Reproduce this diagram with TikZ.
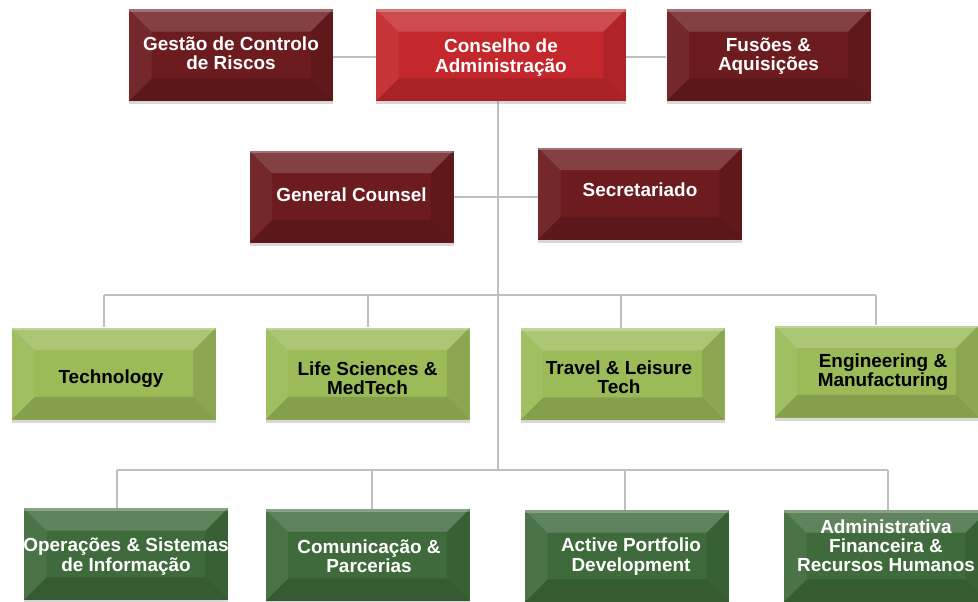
\documentclass[tikz,border=0pt]{standalone}
\usepackage{fontspec}
\setmainfont{Liberation Sans}
\usetikzlibrary{shadows,backgrounds}
\definecolor{dred}{HTML}{6C1B1F}
\definecolor{bred}{HTML}{C4282D}
\definecolor{lgreen}{HTML}{9BBB59}
\definecolor{dgreen}{HTML}{3F6B3C}
\definecolor{connc}{HTML}{BFBFBF}
\newcommand\bvl{17pt}
\tikzset{
  bevel/.style={path picture={
    \path (path picture bounding box.north west) coordinate (pNW)
          (path picture bounding box.north east) coordinate (pNE)
          (path picture bounding box.south west) coordinate (pSW)
          (path picture bounding box.south east) coordinate (pSE);
    \fill[white,opacity=.17] (pNW) -- (pNE) -- ([shift={(-\bvl,-\bvl)}]pNE) -- ([shift={(\bvl,-\bvl)}]pNW) -- cycle;
    \fill[white,opacity=.06] (pNW) -- ([shift={(\bvl,-\bvl)}]pNW) -- ([shift={(\bvl,\bvl)}]pSW) -- (pSW) -- cycle;
    \fill[black,opacity=.10] (pNE) -- ([shift={(-\bvl,-\bvl)}]pNE) -- ([shift={(-\bvl,\bvl)}]pSE) -- (pSE) -- cycle;
    \fill[black,opacity=.14] (pSW) -- ([shift={(\bvl,\bvl)}]pSW) -- ([shift={(-\bvl,\bvl)}]pSE) -- (pSE) -- cycle;
    \fill[white,opacity=.25] (pNW) rectangle ([yshift=-2pt]pNE);
  }},
  box/.style={rectangle, inner sep=0pt, bevel,
    minimum width=153pt, minimum height=69pt,
    drop shadow={shadow xshift=0pt, shadow yshift=-2.5pt, opacity=.25, fill=black!60}},
  darkbox/.style={box, fill=dred},
  redbox/.style={box, fill=bred},
  lgbox/.style={box, fill=lgreen},
  dgbox/.style={box, fill=dgreen},
  txt/.style={inner sep=0pt, align=center, text=white,
    font=\fontsize{14.2pt}{14.4pt}\selectfont\bfseries},
  txtb/.style={txt, text=black},
  conn/.style={draw=connc, line width=2.2pt},
}
\begin{document}
\begin{tikzpicture}[x=0.75pt,y=-0.75pt]
\useasboundingbox (0,0) rectangle (978,601);
\clip (0,0) rectangle (978,601);
% top row
\node[darkbox] (gestao) at (231,55) {};
\node[txt] (gestao-t) at (231,53) {Gestão de Controlo\\de Riscos};
\node[redbox, minimum width=187.5pt] (cons) at (501,55) {};
\node[txt] (cons-t) at (501,57.5) {Conselho de\\Administração};
\node[darkbox] (fusoes) at (768.5,55) {};
\node[txt] (fusoes-t) at (768.5,56.5) {Fusões \&\\Aquisições};
% second row
\node[darkbox] (gc) at (351.5,196.5) {};
\node[txt] (gc-t) at (351.5,195) {General Counsel};
\node[darkbox] (sec) at (640,193.5) {};
\node[txt] (sec-t) at (640,189.5) {Secretariado};
% third row
\node[lgbox] (tech) at (114,373.5) {};
\node[txtb] (tech-t) at (111,379) {Technology};
\node[lgbox] (life) at (367.5,373.5) {};
\node[txtb] (life-t) at (367.5,378.5) {Life Sciences \&\\MedTech};
\node[lgbox] (travel) at (622.5,374) {};
\node[txtb] (travel-t) at (619,377.5) {Travel \& Leisure\\Tech};
\node[lgbox] (eng) at (876.5,371.5) {};
\node[txtb] (eng-t) at (883,372.5) {Engineering \&\\Manufacturing};
% bottom row
\node[dgbox] (oper) at (126,554) {};
\node[txt] (oper-t) at (126,556.5) {Operações \& Sistemas\\de Informação};
\node[dgbox] (comm) at (367.5,555) {};
\node[txt] (comm-t) at (369,556.5) {Comunicação \&\\Parcerias};
\node[dgbox] (active) at (627,556) {};
\node[txt] (active-t) at (631,556.5) {Active Portfolio\\Development};
\node[dgbox] (admin) at (886,556) {};
\node[txt] (admin-t) at (886,545.5) {Administrativa\\Financeira \&\\Recursos Humanos};
% junction coordinates
\coordinate (h0) at (498,57);
\coordinate (h1) at (498,197);
\coordinate (j1) at (498,295);
\coordinate (j2) at (498,470);
\coordinate (a1) at (104,295);
\coordinate (a2) at (368,295);
\coordinate (a3) at (621,295);
\coordinate (a4) at (876,295);
\coordinate (b1) at (117,470);
\coordinate (b2) at (372,470);
\coordinate (b3) at (625,470);
\coordinate (b4) at (888,470);
\begin{scope}[on background layer]
\fill[white] (0,0) rectangle (978,601);
\draw[conn] (gestao.east |- h0) -- (cons.west |- h0);
\draw[conn] (cons.east |- h0) -- (fusoes.west |- h0);
\draw[conn] (cons.south -| j2) -- (j2);
\draw[conn] (gc.east |- h1) -- (sec.west |- h1);
\draw[conn] (a1) -- (a4);
\draw[conn] (a1) -- (a1 |- tech.north);
\draw[conn] (a2) -- (a2 |- life.north);
\draw[conn] (a3) -- (a3 |- travel.north);
\draw[conn] (a4) -- (a4 |- eng.north);
\draw[conn] (b1) -- (b4);
\draw[conn] (b1) -- (b1 |- oper.north);
\draw[conn] (b2) -- (b2 |- comm.north);
\draw[conn] (b3) -- (b3 |- active.north);
\draw[conn] (b4) -- (b4 |- admin.north);
\end{scope}
\end{tikzpicture}
\end{document}
